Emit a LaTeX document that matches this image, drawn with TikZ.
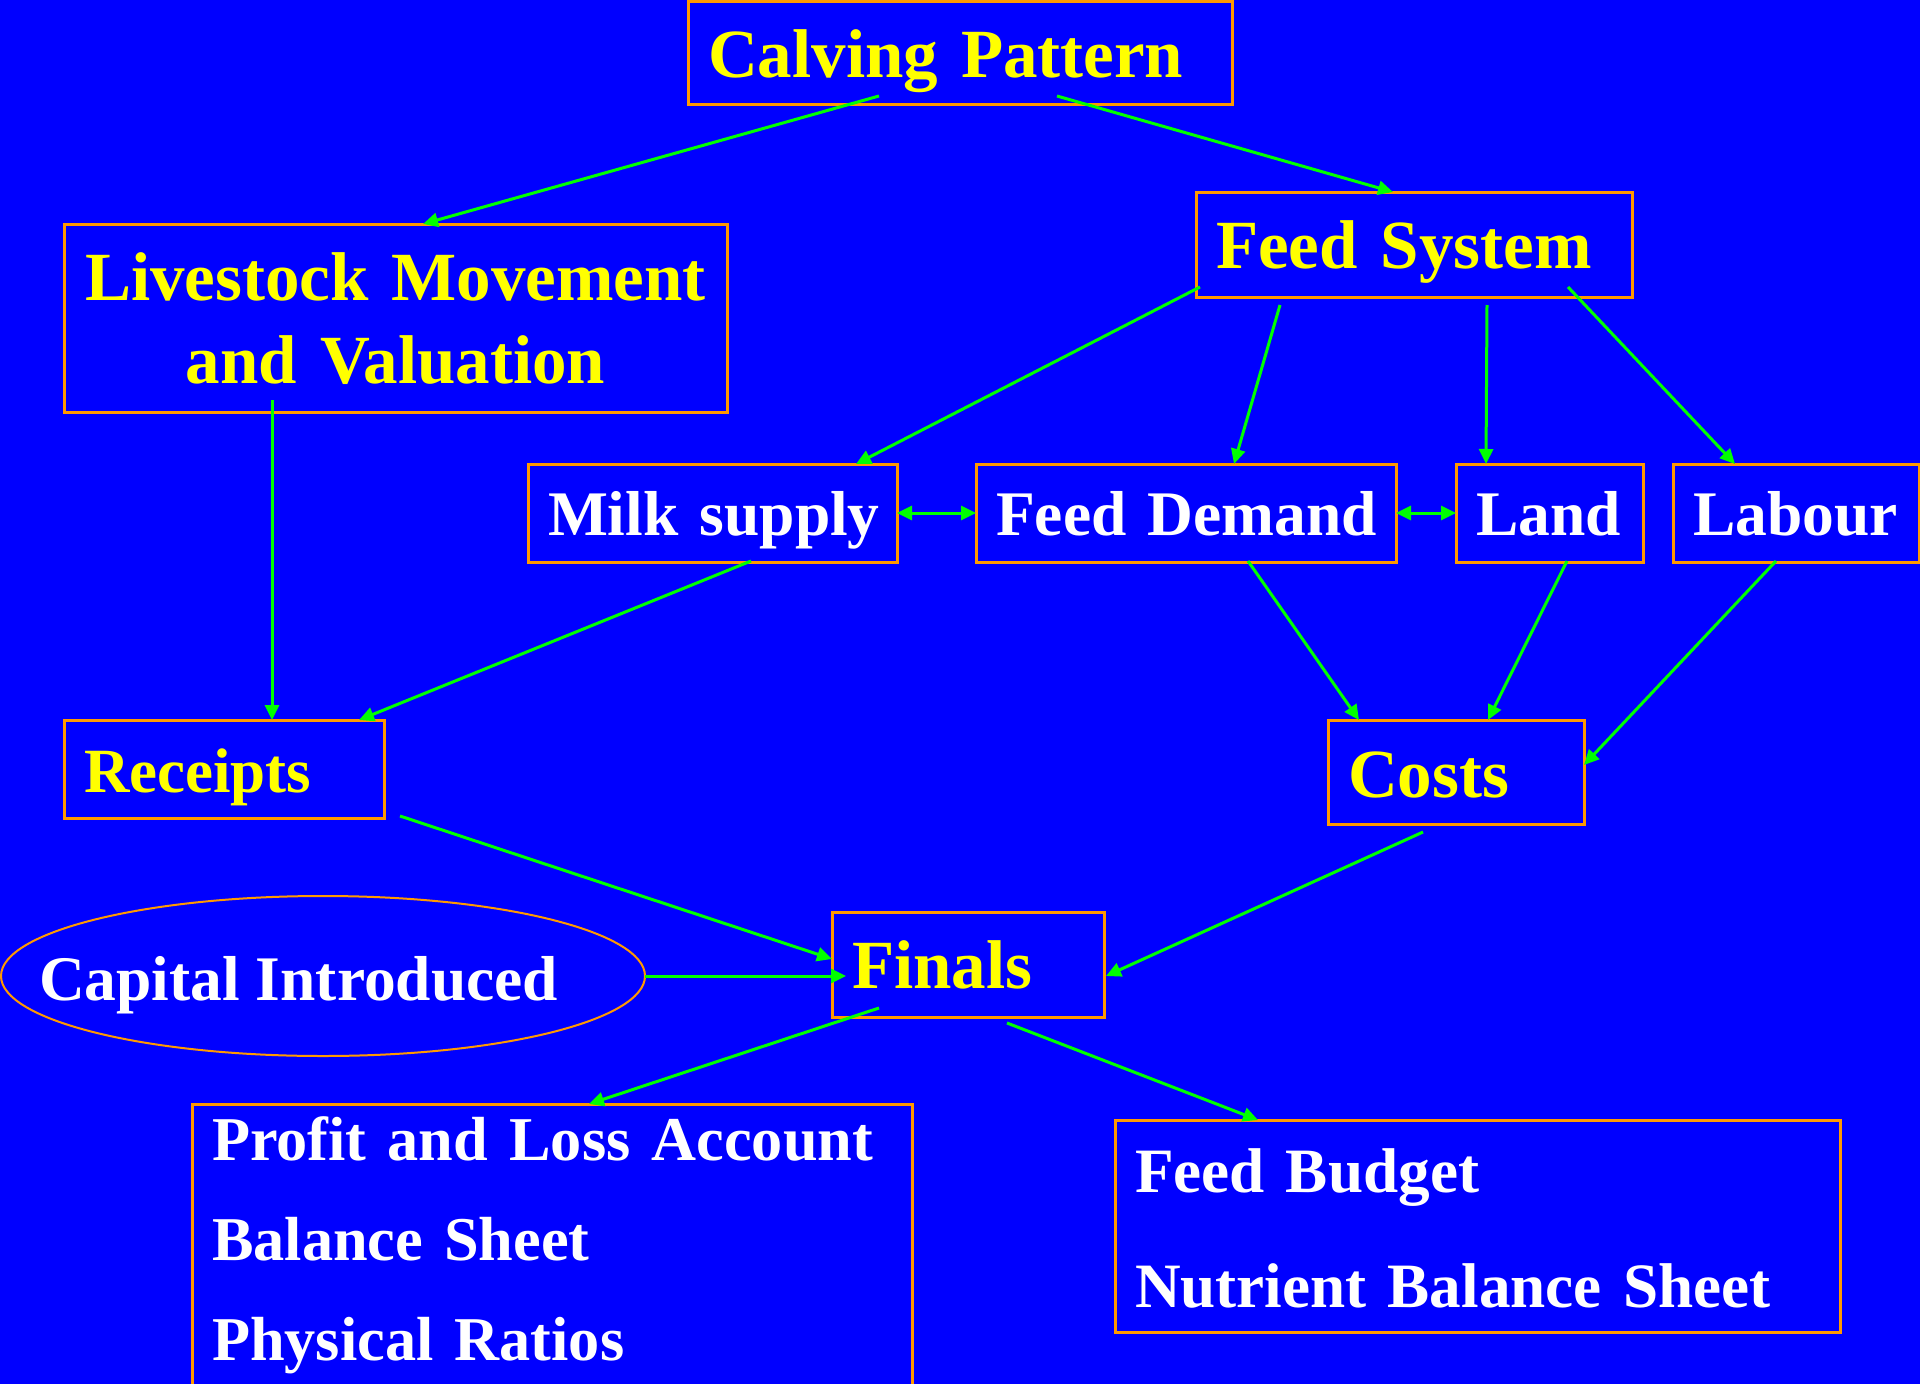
\documentclass[tikz,border=0pt]{standalone}
\usepackage{fontspec}
\setmainfont{Liberation Serif}
\usetikzlibrary{shapes.geometric,arrows.meta}
\definecolor{blu}{RGB}{0,0,255}
\definecolor{orng}{RGB}{255,153,0}
\definecolor{yel}{RGB}{255,255,0}
\definecolor{grn}{RGB}{0,255,0}
\begin{document}
\begin{tikzpicture}[x=1pt,y=-1pt,
  box/.style={draw=orng, line width=3pt, inner xsep=20pt, inner ysep=0pt, outer sep=0pt, anchor=north west, align=left},
  ylw/.style={text=yel, font=\bfseries\fontsize{69}{83}\selectfont},
  ylwsm/.style={text=yel, font=\bfseries\fontsize{63}{76}\selectfont},
  wht/.style={text=white, font=\bfseries\fontsize{63.5}{76}\selectfont},
  ell/.style={ellipse, draw=orng, line width=2pt, inner sep=0pt, outer sep=0pt, minimum width=644pt, minimum height=160pt},
  conn/.style={draw=grn, line width=3pt, -{Triangle[length=15pt,width=14pt]}},
  dconn/.style={draw=grn, line width=3pt, {Triangle[length=15pt,width=14pt]}-{Triangle[length=15pt,width=14pt]}}]
\fill[blu] (0,0) rectangle (1920,1384);
\useasboundingbox (0,0) rectangle (1920,1384);

% boxes
\node[box, ylw, text width=504pt, text height=76pt, text depth=27pt] (cp) at (688,1) {\mbox{Calving Pattern}};
\node[box, ylw, text width=623pt, text height=76pt, text depth=112pt] (lv) at (64,224)
  {\parbox[t]{623pt}{\centering Livestock Movement\\and Valuation}};
\node[box, ylw, text width=396pt, text height=76pt, text depth=29pt] (fs) at (1196,192) {\mbox{Feed System}};
\node[box, wht, text width=329pt, text height=71pt, text depth=27pt] (ms) at (528,464) {\mbox{Milk supply}};
\node[box, wht, text width=380pt, text height=71pt, text depth=27pt] (fd) at (976,464) {\mbox{Feed Demand}};
\node[box, wht, text width=147pt, text height=71pt, text depth=27pt] (ld) at (1456,464) {\mbox{Land}};
\node[box, wht, text width=206pt, text height=71pt, text depth=27pt] (lb) at (1673,464) {\mbox{Labour}};
\node[box, ylwsm, text width=280pt, text height=72pt, text depth=26pt] (rc) at (64,720) {\mbox{Receipts}};
\node[box, ylw, text width=216pt, text height=77pt, text depth=27pt] (co) at (1328,720) {\mbox{Costs}};
\node[box, ylw, text width=232pt, text height=76pt, text depth=29pt] (fi) at (832,912) {\mbox{Finals}};
\node[ell, wht, text height=60pt, text depth=12pt] (ci) at (323,976)
  {\makebox[0pt][l]{\hspace*{-284pt}Capital Introduced}};
\node[box, wht, text width=680pt, text height=56pt, text depth=240pt] (pl) at (192,1104)
  {\parbox[t]{680pt}{\fontsize{62.3}{100}\selectfont Profit and Loss Account\\Balance Sheet\\Physical Ratios}};
\node[box, wht, text width=685pt, text height=72pt, text depth=140pt] (fb) at (1115,1120)
  {\parbox[t]{685pt}{\fontsize{63.2}{115}\selectfont Feed Budget\\Nutrient Balance Sheet}};

% connectors
\draw[conn] ([shift={(191,95)}]cp.north west) -- ([shift={(359,0)}]lv.north west);
\draw[conn] ([shift={(369,95)}]cp.north west) -- ([shift={(197,0)}]fs.north west);
\draw[conn] ([shift={(208,176)}]lv.north west) -- ([shift={(208,0)}]rc.north west);
\draw[conn] ([shift={(4,95)}]fs.north west) -- ([shift={(328,0)}]ms.north west);
\draw[conn] ([shift={(84,113)}]fs.north west) -- ([shift={(258,0)}]fd.north west);
\draw[conn] ([shift={(291,113)}]fs.north west) -- ([shift={(30,0)}]ld.north west);
\draw[conn] ([shift={(372,95)}]fs.north west) -- ([shift={(62,0)}]lb.north west);
\draw[dconn] (ms.east) -- (fd.west);
\draw[dconn] (fd.east) -- (ld.west);
\draw[conn] ([shift={(223,97)}]ms.north west) -- ([shift={(295,0)}]rc.north west);
\draw[conn] ([shift={(272,97)}]fd.north west) -- ([shift={(31,0)}]co.north west);
\draw[conn] ([shift={(111,97)}]ld.north west) -- ([shift={(160,0)}]co.north west);
\draw[conn] ([shift={(103,97)}]lb.north west) -- ([shift={(256,45)}]co.north west);
\draw[conn] ([shift={(336,96)}]rc.north west) -- ([shift={(0,47)}]fi.north west);
\draw[conn] (ci.east) -- ([shift={(14,64)}]fi.north west);
\draw[conn] ([shift={(95,112)}]co.north west) -- ([shift={(274,64)}]fi.north west);
\draw[conn] ([shift={(47,96)}]fi.north west) -- ([shift={(397,0)}]pl.north west);
\draw[conn] ([shift={(175,111)}]fi.north west) -- ([shift={(143,0)}]fb.north west);
\end{tikzpicture}
\end{document}
